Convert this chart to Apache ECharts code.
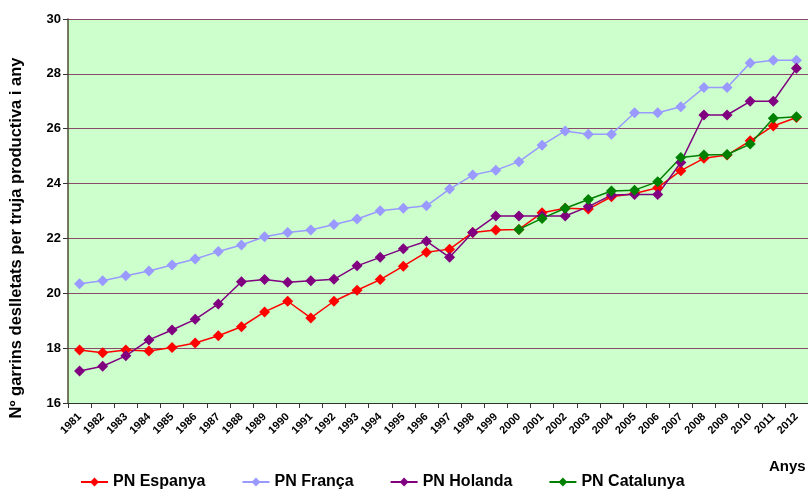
<!DOCTYPE html>
<html>
<head>
<meta charset="utf-8">
<script src="https://cdn.jsdelivr.net/npm/echarts@6/dist/echarts.min.js"></script>
<style>
  html, body { margin: 0; padding: 0; background: #fff; }
  #chart { width: 808px; height: 489px; }
</style>
</head>
<body>
<div id="chart"></div>
<script>
var years = ['1981', '1982', '1983', '1984', '1985', '1986', '1987', '1988', '1989', '1990',
  '1991', '1992', '1993', '1994', '1995', '1996', '1997', '1998', '1999', '2000',
  '2001', '2002', '2003', '2004', '2005', '2006', '2007', '2008', '2009', '2010', '2011', '2012'];

var espanya = [17.93, 17.83, 17.93, 17.9, 18.02, 18.19, 18.45, 18.78, 19.32, 19.71,
  19.1, 19.71, 20.11, 20.5, 20.99, 21.5, 21.61, 22.22, 22.31, 22.33,
  22.94, 23.1, 23.07, 23.52, 23.64, 23.85, 24.47, 24.92, 25.04, 25.56, 26.1, 26.41];

var franca = [20.35, 20.46, 20.64, 20.81, 21.03, 21.25, 21.52, 21.76, 22.06, 22.22,
  22.31, 22.51, 22.71, 23.01, 23.1, 23.19, 23.8, 24.31, 24.49, 24.8,
  25.4, 25.92, 25.8, 25.8, 26.58, 26.58, 26.8, 27.5, 27.5, 28.4, 28.5, 28.5];

var holanda = [17.17, 17.34, 17.72, 18.3, 18.66, 19.05, 19.61, 20.42, 20.5, 20.4,
  20.46, 20.51, 21.0, 21.31, 21.62, 21.9, 21.31, 22.22, 22.82, 22.82,
  22.82, 22.82, 23.16, 23.58, 23.6, 23.6, 24.77, 26.5, 26.5, 27.0, 27.0, 28.2];

var catalunya = [null, null, null, null, null, null, null, null, null, null,
  null, null, null, null, null, null, null, null, null, 22.33,
  22.73, 23.1, 23.42, 23.73, 23.76, 24.07, 24.95, 25.04, 25.06, 25.44, 26.38, 26.44];

var seriesNames = ['PN Espanya', 'PN França', 'PN Holanda', 'PN Catalunya'];
var seriesColors = ['#ff0000', '#9999ff', '#800080', '#008000'];

function makeSeries(name, color, data) {
  return {
    name: name,
    type: 'line',
    data: data,
    color: color,
    symbol: 'diamond',
    symbolSize: 11,
    connectNulls: false,
    lineStyle: { width: 1.5, color: color },
    itemStyle: { color: color },
    emphasis: { disabled: true },
    animation: false
  };
}

var myChart = echarts.init(document.getElementById('chart'));
var option = {
  backgroundColor: '#fff',
  textStyle: { fontFamily: 'Liberation Sans, Arial, sans-serif' },
  grid: {
    left: 68,
    top: 19,
    bottom: 86,
    right: -9,
    show: true,
    backgroundColor: '#ccffcc',
    borderWidth: 0
  },
  legend: {
    left: 75,
    top: 469,
    itemGap: 36,
    itemWidth: 27,
    itemHeight: 11,
    textStyle: { color: '#000', fontSize: 16, fontWeight: 'bold', fontFamily: 'Liberation Sans, Arial, sans-serif' },
    data: seriesNames
  },
  xAxis: {
    type: 'category',
    data: years,
    boundaryGap: true,
    axisLine: { lineStyle: { color: '#333', width: 1 } },
    axisTick: { show: true, alignWithLabel: false, length: 5, lineStyle: { color: '#333' } },
    axisLabel: {
      interval: 0,
      rotate: 45,
      margin: 12,
      color: '#000',
      fontSize: 11,
      fontWeight: 'bold',
      hideOverlap: false
    },
    splitLine: { show: false }
  },
  yAxis: {
    type: 'value',
    min: 16,
    max: 30,
    interval: 2,
    name: 'Nº garrins deslletats per truja productiva i any',
    nameLocation: 'middle',
    nameGap: 43,
    nameTextStyle: { color: '#000', fontSize: 16.5, fontWeight: 'bold', padding: [0, 54, 0, 0] },
    axisLine: { show: true, lineStyle: { color: '#4d4d33', width: 1.5 } },
    axisTick: { show: true, length: 5, lineStyle: { color: '#333' } },
    axisLabel: { color: '#000', fontSize: 13, fontWeight: 'bold', margin: 7 },
    splitLine: {
      show: true,
      lineStyle: { width: 1.2, color: '#8c4a6a' }
    }
  },
  graphic: [{
    type: 'text',
    left: 769,
    top: 459,
    style: { text: 'Anys', fill: '#000', font: 'bold 15px Liberation Sans, Arial, sans-serif' }
  }],
  series: [
    makeSeries(seriesNames[0], seriesColors[0], espanya),
    makeSeries(seriesNames[1], seriesColors[1], franca),
    makeSeries(seriesNames[2], seriesColors[2], holanda),
    makeSeries(seriesNames[3], seriesColors[3], catalunya)
  ]
};
myChart.setOption(option, true);
</script>
</body>
</html>
